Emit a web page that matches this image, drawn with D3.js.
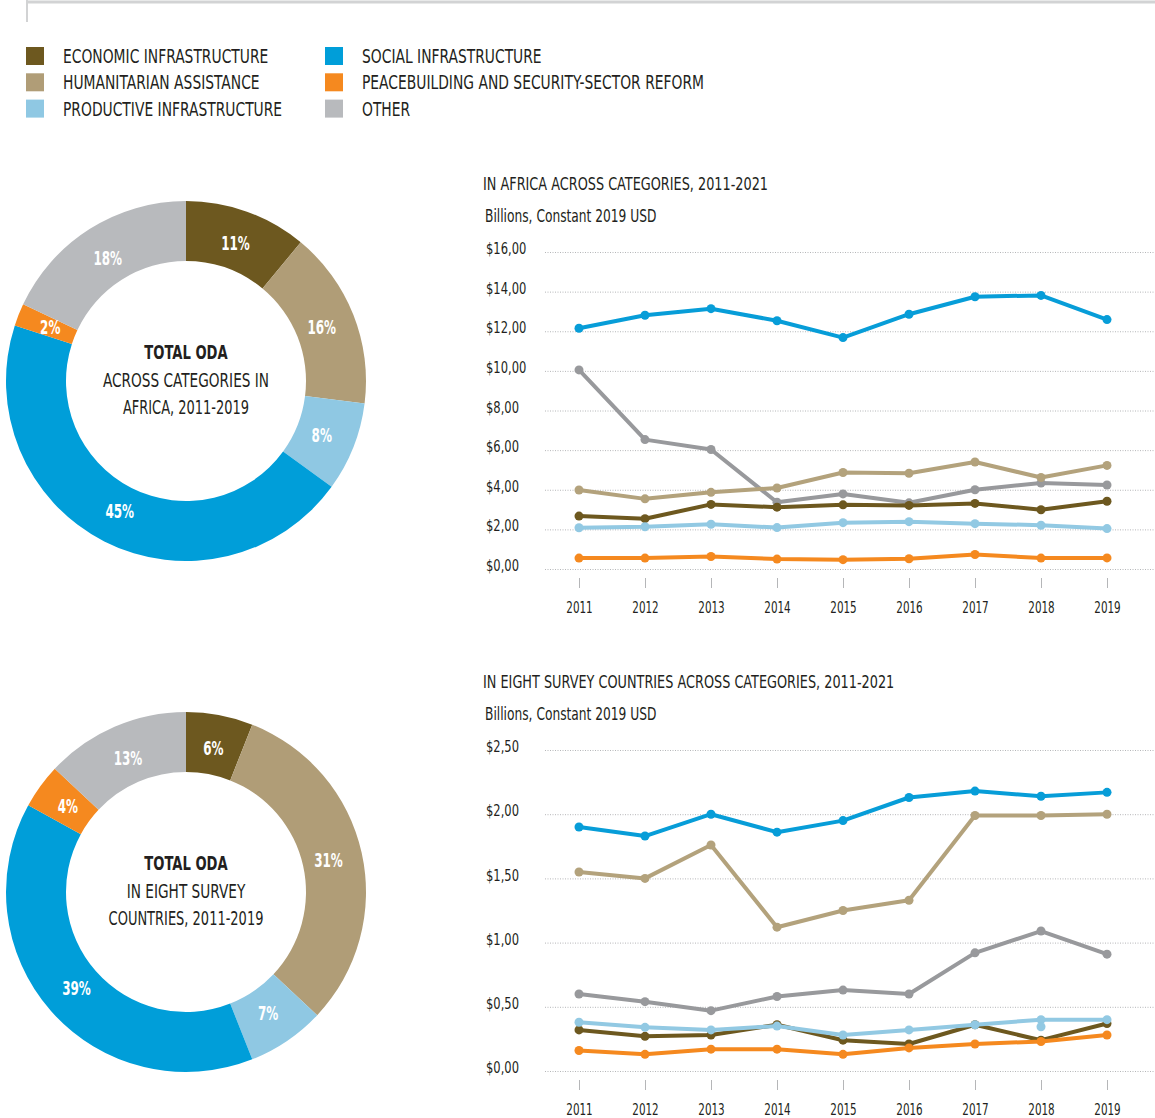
<!DOCTYPE html>
<html>
  <head>
    <meta http-equiv="Content-Type" content="text/html;charset=utf-8"/>
    <title>ODA across categories</title>
    <script src="https://d3js.org/d3.v7.min.js"></script>
    <style>
      body { margin: 0; background: #fff; }
      svg text { font-family: "Liberation Sans Narrow", "Arial Narrow", "DejaVu Sans Condensed", sans-serif; }
    </style>
  </head>
  <body>
    <div id="content"></div>
    <script type="text/javascript">

        // ---- data ----
        const categories = [
            "ECONOMIC INFRASTRUCTURE",
            "HUMANITARIAN ASSISTANCE",
            "PRODUCTIVE INFRASTRUCTURE",
            "SOCIAL INFRASTRUCTURE",
            "PEACEBUILDING AND SECURITY-SECTOR REFORM",
            "OTHER"
        ]
        const years = [2011, 2012, 2013, 2014, 2015, 2016, 2017, 2018, 2019]

        // donut shares (%), same order as categories
        const africaShare = [11, 16, 8, 45, 2, 18]
        const surveyShare = [6, 31, 7, 39, 4, 13]

        // Africa, billions constant 2019 USD
        const africaEconomic     = [2.67, 2.54, 3.26, 3.12, 3.24, 3.21, 3.31, 2.99, 3.42]
        const africaHumanitarian = [3.99, 3.54, 3.87, 4.09, 4.87, 4.83, 5.40, 4.62, 5.23]
        const africaProductive   = [2.08, 2.13, 2.26, 2.09, 2.34, 2.39, 2.29, 2.21, 2.04]
        const africaSocial       = [12.15, 12.81, 13.14, 12.53, 11.68, 12.86, 13.74, 13.81, 12.59]
        const africaPeace        = [0.55, 0.55, 0.63, 0.50, 0.47, 0.52, 0.73, 0.55, 0.56]
        const africaOther        = [10.05, 6.53, 6.03, 3.37, 3.79, 3.34, 4.00, 4.34, 4.24]

        // eight survey countries
        const surveyEconomic     = [0.32, 0.27, 0.28, 0.36, 0.24, 0.21, 0.36, 0.24, 0.37]
        const surveyHumanitarian = [1.55, 1.50, 1.76, 1.12, 1.25, 1.33, 1.99, 1.99, 2.00]
        const surveyProductive   = [0.38, 0.34, 0.32, 0.35, 0.28, 0.32, 0.36, 0.40, 0.40]
        const surveySocial       = [1.90, 1.83, 2.00, 1.86, 1.95, 2.13, 2.18, 2.14, 2.17]
        const surveyPeace        = [0.16, 0.13, 0.17, 0.17, 0.13, 0.18, 0.21, 0.23, 0.28]
        const surveyOther        = [0.60, 0.54, 0.47, 0.58, 0.63, 0.60, 0.92, 1.09, 0.91]
        // loose productive marker below the line in 2018
        const surveyProductiveExtra = [{ year: 2018, value: 0.345 }]

        const africaTicks = [0, 2, 4, 6, 8, 10, 12, 14, 16]
        const surveyTicks = [0, 0.5, 1, 1.5, 2, 2.5]

        // ---- style ----
        const sliceColors = ['#6d581f', '#b09d77', '#8fc8e3', '#009ed9', '#f5891f', '#b8babd']
        const lineColors  = ['#6d581f', '#b3a27c', '#92c9e3', '#079dd8', '#f5891f', '#98999c']
        const drawOrder   = [5, 1, 3, 0, 2, 4]

        const width = 1155, height = 1118

        // no condensed face installed, so narrow the glyphs ourselves
        function squeeze(sel, k) {
            sel.each(function () {
                const w = this.getComputedTextLength()
                d3.select(this).attr('textLength', w * k).attr('lengthAdjust', 'spacingAndGlyphs')
            })
        }

        const svg = d3.select('#content').append('svg')
            .attr('width', width).attr('height', height)

        // frame corner at top
        svg.append('line').attr('x1', 27).attr('x2', width).attr('y1', 2).attr('y2', 2)
            .attr('stroke', '#d2d3d4').attr('stroke-width', 3)
        svg.append('line').attr('x1', 27).attr('x2', 27).attr('y1', 0).attr('y2', 22)
            .attr('stroke', '#d2d3d4').attr('stroke-width', 2)

        // legend
        const legend = svg.append('g').selectAll('g')
            .data(categories)
            .enter()
            .append('g')
            .attr('transform', (d, i) => 'translate(' + (26 + Math.floor(i / 3) * 299) + ',' + (47 + (i % 3) * 26.3) + ')')
        legend.append('rect').attr('width', 18).attr('height', 18)
            .style('fill', (d, i) => sliceColors[i])
        legend.append('text').attr('x', 37).attr('y', 16)
            .style('font-size', '20px').style('fill', '#231f20')
            .text(d => d)
            .call(squeeze, 0.77)

        // ---- donuts ----
        function donut(cy, shares, lines) {
            const g = svg.append('g').attr('transform', 'translate(186,' + cy + ')')
            const pie = d3.pie().sort(null).value(d => d)
            const arc = d3.arc().innerRadius(120).outerRadius(180)
            const labelArc = d3.arc().innerRadius(146).outerRadius(146)
            const arcs = pie(shares)

            g.selectAll('path').data(arcs).enter().append('path')
                .attr('d', arc)
                .style('fill', (d, i) => sliceColors[i])

            g.selectAll('text.pct').data(arcs).enter().append('text')
                .attr('class', 'pct')
                .attr('transform', d => 'translate(' + labelArc.centroid(d) + ')')
                .attr('text-anchor', 'middle')
                .attr('dy', '0.36em')
                .style('font-size', '19px').style('font-weight', 'bold').style('fill', '#fff')
                .text(d => d.data + '%')
                .call(squeeze, 0.7)

            g.append('text').attr('text-anchor', 'middle').attr('y', -22)
                .style('font-size', '20px').style('font-weight', 'bold').style('fill', '#231f20')
                .text('TOTAL ODA')
                .call(squeeze, 0.73)
            g.selectAll('text.sub').data(lines).enter().append('text')
                .attr('class', 'sub')
                .attr('text-anchor', 'middle')
                .attr('y', (d, i) => 6 + i * 27)
                .style('font-size', (d, i) => i ? '19px' : '20px').style('fill', '#231f20')
                .text(d => d)
                .call(squeeze, 0.76)
        }

        donut(381, africaShare, ['ACROSS CATEGORIES IN', 'AFRICA, 2011-2019'])
        donut(892, surveyShare, ['IN EIGHT SURVEY', 'COUNTRIES, 2011-2019'])

        // ---- line charts ----
        function lineChart(top, bottom, maxY, ticks, title, series, extra) {
            const x = d3.scalePoint().domain(years).range([579, 1107])
            const y = d3.scaleLinear().domain([0, maxY]).range([bottom, top])

            svg.append('text').attr('x', 483).attr('y', top - 62)
                .style('font-size', '17px').style('fill', '#231f20')
                .text(title)
                .call(squeeze, 0.84)

            svg.append('text').attr('x', 485).attr('y', top - 30)
                .style('font-size', '17px').style('fill', '#231f20')
                .text('Billions, Constant 2019 USD')
                .call(squeeze, 0.8)

            // grid + y labels
            const yAxis = d3.axisLeft(y).tickValues(ticks)
                .tickSize(-(width - 545))
                .tickFormat(d => '$' + d3.format('.2f')(d).replace('.', ','))
            const ga = svg.append('g').attr('transform', 'translate(545,0)').call(yAxis)
            ga.select('.domain').remove()
            ga.selectAll('.tick line')
                .attr('stroke', '#b5b6b8').attr('stroke-dasharray', '1,1.5')
            ga.selectAll('.tick text')
                .attr('x', -59).attr('dy', '0.1em')
                .attr('text-anchor', 'start')
                .style('font-size', '16px').style('fill', '#231f20')
                .call(squeeze, 0.8)

            // x ticks + years
            const xAxis = d3.axisBottom(x).tickSize(10).tickPadding(14)
            const gx = svg.append('g').attr('transform', 'translate(0,' + (bottom + 9) + ')').call(xAxis)
            gx.select('.domain').remove()
            gx.selectAll('.tick line').attr('stroke', '#b5b6b8')
            gx.selectAll('.tick text').style('font-size', '15px').style('fill', '#231f20')
                .call(squeeze, 0.77)

            const line = d3.line().x((d, i) => x(years[i])).y(d => y(d))

            drawOrder.forEach(k => {
                svg.append('path').datum(series[k])
                    .attr('d', line)
                    .attr('fill', 'none')
                    .attr('stroke', lineColors[k])
                    .attr('stroke-width', 4)
                    .attr('stroke-linejoin', 'round')
                svg.append('g').selectAll('circle')
                    .data(series[k])
                    .enter()
                    .append('circle')
                    .attr('cx', (d, i) => x(years[i]))
                    .attr('cy', d => y(d))
                    .attr('r', 4.5)
                    .style('fill', lineColors[k])
            })

            if (extra) {
                svg.append('g').selectAll('circle')
                    .data(extra)
                    .enter()
                    .append('circle')
                    .attr('cx', d => x(d.year))
                    .attr('cy', d => y(d.value))
                    .attr('r', 4.5)
                    .style('fill', lineColors[2])
            }
        }

        lineChart(252, 569, 16, africaTicks, 'IN AFRICA ACROSS CATEGORIES, 2011-2021',
            [africaEconomic, africaHumanitarian, africaProductive, africaSocial, africaPeace, africaOther])
        lineChart(750, 1071, 2.5, surveyTicks, 'IN EIGHT SURVEY COUNTRIES ACROSS CATEGORIES, 2011-2021',
            [surveyEconomic, surveyHumanitarian, surveyProductive, surveySocial, surveyPeace, surveyOther],
            surveyProductiveExtra)

    </script>
  </body>
</html>
